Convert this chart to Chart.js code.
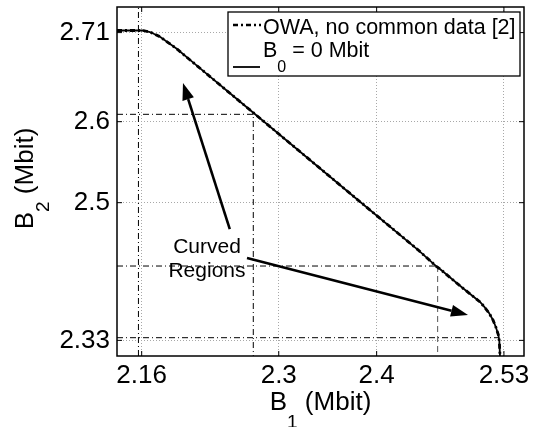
<!DOCTYPE html>
<html lang="en">
<head>
<meta charset="UTF-8">
<title>B1 / B2 rate region</title>
<style>
  body { margin: 0; background: #fff; }
</style>
</head>
<body>
<canvas id="myChart" width="535" height="427"></canvas>

<script src="https://cdn.jsdelivr.net/npm/chart.js"></script>
<script>
// boundary of the region (Mbit); OWA and B0 = 0 give the same curve
const b1Values = [2.1348, 2.1613, 2.1685, 2.1787, 2.1958, 2.2124, 2.2298, 2.2468, 2.3013, 2.3830, 2.4425, 2.4613, 2.4647, 2.4851, 2.5056, 2.5096, 2.5148, 2.5188, 2.5219, 2.5243, 2.5253, 2.5260];
const b2Values = [2.7126, 2.7126, 2.7107, 2.7049, 2.6900, 2.6732, 2.6557, 2.6385, 2.5836, 2.5012, 2.4415, 2.4210, 2.4181, 2.3974, 2.3774, 2.3719, 2.3638, 2.3552, 2.3459, 2.3367, 2.3293, 2.3107];

// corner points of the guide lines
const markB1 = [2.1567, 2.2740, 2.4623, 2.5245];
const markB2 = [2.7126, 2.6091, 2.4218, 2.3333];

const xTicks = [2.16, 2.3, 2.4, 2.53];
const yTicks = [2.33, 2.5, 2.6, 2.71];
const xMin = 2.1348, xMax = 2.5505;
const yMin = 2.3107, yMax = 2.7416;

// "Curved Regions" note and its two arrows: [fromB1, fromB2, toB1, toB2]
const noteAt = [2.2267, 2.4379];
const arrows = [
    [2.2500, 2.4673, 2.2022, 2.6478],
    [2.2676, 2.4317, 2.4933, 2.3614]
];

const FONT = "'Liberation Sans', Arial, Helvetica, sans-serif";
const DASHDOT = [6, 3, 1, 3];

function pts(xs, ys) {
    let out = [];
    for (let i = 0; i < xs.length; i++) out.push({ x: xs[i], y: ys[i] });
    return out;
}

function guide(data, dash, color) {
    return {
        data: data,
        showLine: true,
        borderColor: color || "#000",
        borderWidth: 1,
        borderDash: dash,
        pointRadius: 0,
        fill: false
    };
}

let v_datasets = [
    {
        label: "OWA, no common data [2]",
        data: pts(b1Values, b2Values),
        showLine: true,
        borderColor: "#000",
        borderWidth: 2.8,
        borderDash: [5, 3, 2, 3],
        pointRadius: 0,
        fill: false
    },
    {
        label: "B0 = 0 Mbit",
        data: pts(b1Values, b2Values),
        showLine: true,
        borderColor: "#000",
        borderWidth: 1.8,
        pointRadius: 0,
        fill: false
    },
    guide([{ x: markB1[0], y: yMin }, { x: markB1[0], y: yMax }], DASHDOT),
    guide([{ x: xMin, y: markB2[1] }, { x: markB1[1], y: markB2[1] }, { x: markB1[1], y: yMin }], DASHDOT),
    guide([{ x: xMin, y: markB2[2] }, { x: markB1[2], y: markB2[2] }], DASHDOT),
    guide([{ x: markB1[2], y: markB2[2] }, { x: markB1[2], y: yMin }], [6, 4], "#555"),
    guide([{ x: xMin, y: markB2[3] }, { x: markB1[3], y: markB2[3] }], DASHDOT)
];

// text with one subscript, returns its width
function subText(ctx, x, y, main, sub, rest, size, subSize, drop, measureOnly) {
    ctx.font = size + "px " + FONT;
    let w1 = ctx.measureText(main).width;
    let w3 = ctx.measureText(rest).width;
    ctx.font = subSize + "px " + FONT;
    let w2 = ctx.measureText(sub).width;
    if (measureOnly) return w1 + w2 + w3;
    ctx.font = size + "px " + FONT;
    ctx.fillText(main, x, y);
    ctx.font = subSize + "px " + FONT;
    ctx.fillText(sub, x + w1, y + drop);
    ctx.font = size + "px " + FONT;
    ctx.fillText(rest, x + w1 + w2, y);
    return w1 + w2 + w3;
}

function arrow(ctx, x0, y0, x1, y1) {
    let a = Math.atan2(y1 - y0, x1 - x0);
    let len = 17, half = 6;
    let bx = x1 - len * Math.cos(a), by = y1 - len * Math.sin(a);
    ctx.beginPath();
    ctx.moveTo(x0, y0);
    ctx.lineTo(bx, by);
    ctx.lineWidth = 2.6;
    ctx.stroke();
    ctx.beginPath();
    ctx.moveTo(x1, y1);
    ctx.lineTo(bx + half * Math.sin(a), by - half * Math.cos(a));
    ctx.lineTo(bx - half * Math.sin(a), by + half * Math.cos(a));
    ctx.closePath();
    ctx.fill();
}

const extras = {
    id: "extras",
    afterDatasetsDraw(chart) {
        const ctx = chart.ctx;
        const xs = chart.scales.x, ys = chart.scales.y;
        const area = chart.chartArea;
        ctx.save();
        ctx.fillStyle = "#000";
        ctx.strokeStyle = "#000";

        // note + arrows
        for (let i = 0; i < arrows.length; i++) {
            let r = arrows[i];
            arrow(ctx, xs.getPixelForValue(r[0]), ys.getPixelForValue(r[1]),
                xs.getPixelForValue(r[2]), ys.getPixelForValue(r[3]));
        }
        ctx.font = "21px " + FONT;
        ctx.textAlign = "center";
        ctx.textBaseline = "alphabetic";
        let nx = xs.getPixelForValue(noteAt[0]), ny = ys.getPixelForValue(noteAt[1]);
        ctx.fillText("Curved", nx, ny);
        ctx.fillText("Regions", nx, ny + 24);
        ctx.textAlign = "left";

        // frame and inward ticks
        ctx.lineWidth = 1.5;
        ctx.setLineDash([]);
        ctx.strokeRect(area.left, area.top, area.right - area.left, area.bottom - area.top);
        ctx.lineWidth = 1;
        ctx.beginPath();
        xTicks.forEach(v => {
            let p = xs.getPixelForValue(v);
            ctx.moveTo(p, area.bottom); ctx.lineTo(p, area.bottom - 5);
            ctx.moveTo(p, area.top); ctx.lineTo(p, area.top + 5);
        });
        yTicks.forEach(v => {
            let p = ys.getPixelForValue(v);
            ctx.moveTo(area.left, p); ctx.lineTo(area.left + 5, p);
            ctx.moveTo(area.right, p); ctx.lineTo(area.right - 5, p);
        });
        ctx.stroke();

        // legend box
        const lx = 228, ly = 12, lw = 292, lh = 64;
        ctx.fillStyle = "#fff";
        ctx.fillRect(lx, ly, lw, lh);
        ctx.lineWidth = 1.3;
        ctx.strokeRect(lx, ly, lw, lh);
        ctx.fillStyle = "#000";
        ctx.lineWidth = 2.4;
        ctx.setLineDash([5, 3, 2, 3]);
        ctx.beginPath(); ctx.moveTo(233, 25); ctx.lineTo(261, 25); ctx.stroke();
        ctx.setLineDash([]);
        ctx.lineWidth = 1.8;
        ctx.beginPath(); ctx.moveTo(233, 67); ctx.lineTo(260, 67); ctx.stroke();
        ctx.font = "21.5px " + FONT;
        ctx.fillText(v_datasets[0].label, 263, 34);
        subText(ctx, 263, 57, "B", "0", " = 0 Mbit", 21.5, 16, 15);

        // axis titles
        let wx = subText(ctx, 0, 0, "B", "1", " (Mbit)", 26, 19, 18, true);
        subText(ctx, (area.left + area.right) / 2 - wx / 2, 410, "B", "1", " (Mbit)", 26, 19, 18);
        let wy = subText(ctx, 0, 0, "B", "2", " (Mbit)", 26, 19, 16, true);
        ctx.translate(33, (area.top + area.bottom) / 2 - 3);
        ctx.rotate(-Math.PI / 2);
        subText(ctx, -wy / 2, 0, "B", "2", " (Mbit)", 26, 19, 16);
        ctx.restore();
    }
};

const ctx = document.getElementById("myChart");

new Chart(ctx, {
    type: "scatter",
    data: { datasets: v_datasets },
    options: {
        responsive: false,
        animation: false,
        layout: { padding: { top: 7, right: 11, left: 0, bottom: 0 } },
        plugins: {
            legend: { display: false },
            tooltip: { enabled: false }
        },
        scales: {
            x: {
                type: "linear",
                min: xMin,
                max: xMax,
                afterBuildTicks: s => { s.ticks = xTicks.map(v => ({ value: v })); },
                afterFit: s => {
                    s.height = 71;
                    s.paddingLeft = 0;
                    s.paddingRight = 0;
                },
                grid: { color: "#a8a8a8", lineWidth: 1, drawTicks: false },
                border: { display: false, dash: [1, 2] },
                ticks: {
                    color: "#000",
                    font: { family: FONT, size: 26 },
                    padding: 4,
                    autoSkip: false,
                    maxRotation: 0,
                    callback: v => String(v)
                }
            },
            y: {
                type: "linear",
                min: yMin,
                max: yMax,
                afterBuildTicks: s => { s.ticks = yTicks.map(v => ({ value: v })); },
                afterFit: s => {
                    s.width = 117;
                    s.paddingTop = 0;
                    s.paddingBottom = 0;
                },
                grid: { color: "#a8a8a8", lineWidth: 1, drawTicks: false },
                border: { display: false, dash: [1, 2] },
                ticks: {
                    color: "#000",
                    font: { family: FONT, size: 26 },
                    padding: 7,
                    autoSkip: false,
                    callback: v => String(v)
                }
            }
        }
    },
    plugins: [extras]
});
</script>
</body>
</html>
